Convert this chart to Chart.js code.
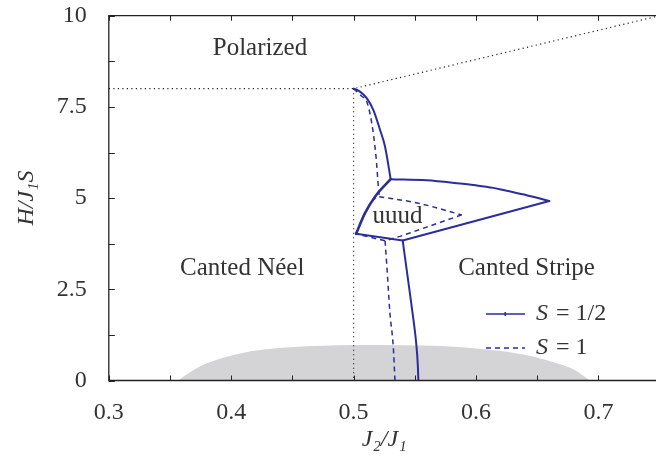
<!DOCTYPE html>
<html><head><meta charset="utf-8">
<script src="https://cdn.jsdelivr.net/npm/chart.js@4.4.1/dist/chart.umd.min.js"></script>
<style>html,body{margin:0;padding:0;overflow:hidden;background:#fff}</style>
</head><body>
<canvas id="c" width="660" height="463"></canvas>
<script>
// ---- axis ticks ----
const xTicks = [0.3,0.35,0.4,0.45,0.5,0.55,0.6,0.65,0.7,0.75];
const xLabelTicks = ['0.3','0.4','0.5','0.6','0.7'];
const yTicks = [0,1.25,2.5,3.75,5,6.25,7.5,8.75,10];
const yLabelTicks = ['0','2.5','5','7.5','10'];

// ---- S = 1/2 (solid) ----
const s12UpperX = [0.5,0.5052,0.5107,0.5161,0.5216,0.5257,0.5303];
const s12UpperY = [8.0,7.92,7.74,7.42,6.87,6.41,5.52];
const s12TopX = [0.5303,0.5597,0.587,0.6,0.6141,0.625,0.6414,0.6599];
const s12TopY = [5.52,5.49,5.40,5.35,5.28,5.20,5.08,4.92];
const s12BottomX = [0.6599,0.5401,0.502];
const s12BottomY = [4.92,3.84,4.02];
const s12LeftX = [0.502,0.5093,0.5175,0.5303];
const s12LeftY = [4.02,4.59,5.04,5.52];
const s12LowerX = [0.5401,0.5445,0.5482,0.5512,0.5525,0.5529];
const s12LowerY = [3.84,2.76,1.84,1.0,0.4,0];

// ---- S = 1 (dashed) ----
const s1UpperX = [0.5,0.5066,0.5107,0.5148,0.5183,0.5202,0.521];
const s1UpperY = [8.0,7.79,7.65,7.06,6.14,5.32,5.04];
const s1TopX = [0.521,0.5529,0.5883];
const s1TopY = [5.04,4.86,4.54];
const s1BottomX = [0.5883,0.5379,0.5257,0.502];
const s1BottomY = [4.54,3.95,3.83,4.02];
const s1LeftX = [0.502,0.5095,0.516,0.521];
const s1LeftY = [4.02,4.6,4.95,5.04];
const s1LowerX = [0.5257,0.527,0.5297,0.5324,0.5338];
const s1LowerY = [3.83,3.22,1.84,0.93,0];

// ---- dotted boundaries ----
const polX = [0.3,0.5,0.75];
const polY = [8,8,10];
const vertX = [0.5,0.5];
const vertY = [8,0];

// ---- gray region ----
const grayX = [0.357,0.362,0.37,0.38,0.395,0.407,0.425,0.448,0.475,0.5,0.54,0.571,0.6,0.625,0.65,0.666,0.68,0.693];
const grayY = [0,0.13,0.3,0.47,0.64,0.74,0.84,0.91,0.95,0.97,0.965,0.946,0.88,0.79,0.63,0.47,0.3,0];

// ---- region labels ----
const regionNames = ['Polarized','Canted Néel','Canted Stripe','uuud'];
const regionX = [0.4235,0.409,0.6413,0.5359];
const regionY = [9.1,3.06,3.06,4.51];

const zip = (xs, ys) => xs.map((x,i)=>({x, y: ys[i]}));
const BLUE = '#2b2d9c';
const SERIF = '"Liberation Serif", "DejaVu Serif", serif';
const TXT = '#333';

function curveOpts(mode){ return mode === 'mono' ? {cubicInterpolationMode:'monotone'} : {tension: mode}; }
function solid(xs, ys, mode, w){ return Object.assign({data: zip(xs,ys), borderColor: BLUE, borderWidth: w||2, pointRadius:0, showLine:true, fill:false, order:1, borderJoinStyle:'round', borderCapStyle:'round'}, curveOpts(mode)); }
function dashed(xs, ys, mode){ return Object.assign({data: zip(xs,ys), borderColor: BLUE, borderWidth: 1.5, borderDash:[5,4], pointRadius:0, showLine:true, fill:false, order:2}, curveOpts(mode)); }
function dotted(xs, ys){ return {data: zip(xs,ys), borderColor: '#222', borderWidth: 1.2, borderDash:[1.2,3.3], tension:0, pointRadius:0, showLine:true, fill:false, order:3}; }

const datasets = [
  {data: zip(grayX,grayY), borderWidth:0, borderColor:'rgba(0,0,0,0)', backgroundColor:'#d4d4d6', fill:'origin', cubicInterpolationMode:'monotone', pointRadius:0, showLine:true, order:10},
  dotted(polX, polY), dotted(vertX, vertY),
  dashed(s1UpperX, s1UpperY, 'mono'), dashed(s1TopX, s1TopY, 'mono'), dashed(s1BottomX, s1BottomY, 0), dashed(s1LeftX, s1LeftY, 'mono'), dashed(s1LowerX, s1LowerY, 'mono'),
  solid(s12UpperX, s12UpperY, 'mono'), solid(s12TopX, s12TopY, 'mono'), solid(s12BottomX, s12BottomY, 0), solid(s12LeftX, s12LeftY, 'mono', 2.6), solid(s12LowerX, s12LowerY, 'mono')
];

const framePlugin = {
  id: 'frame',
  afterDatasetsDraw(chart){
    const {ctx, chartArea: a, scales: {x, y}} = chart;
    ctx.save();
    ctx.strokeStyle = '#222'; ctx.lineWidth = 1.3; ctx.setLineDash([]);
    ctx.beginPath();
    ctx.moveTo(a.right+2, a.top); ctx.lineTo(a.left, a.top); ctx.lineTo(a.left, a.bottom); ctx.lineTo(a.right+2, a.bottom);
    ctx.stroke();
    ctx.lineWidth = 1;
    ctx.beginPath();
    xTicks.forEach(v => { const px = Math.round(x.getPixelForValue(v))+0.5;
      ctx.moveTo(px, a.bottom); ctx.lineTo(px, a.bottom-5);
      ctx.moveTo(px, a.top); ctx.lineTo(px, a.top+5); });
    yTicks.forEach(v => { const py = Math.round(y.getPixelForValue(v))+0.5;
      ctx.moveTo(a.left, py); ctx.lineTo(a.left+6, py); });
    ctx.stroke();
    // region labels
    ctx.fillStyle = TXT; ctx.font = '25px ' + SERIF; ctx.textAlign = 'center'; ctx.textBaseline = 'middle';
    regionNames.forEach((t,i)=> ctx.fillText(t, x.getPixelForValue(regionX[i]), y.getPixelForValue(regionY[i])));
    // legend
    const items = [{txt:' = 1/2', dash:[], w:1.5, yy:314}, {txt:' = 1', dash:[5,4], w:1.5, yy:348}];
    items.forEach(it => {
      ctx.strokeStyle = BLUE; ctx.lineWidth = it.w; ctx.setLineDash(it.dash);
      ctx.beginPath(); ctx.moveTo(486, it.yy); ctx.lineTo(525, it.yy); ctx.stroke();
      ctx.setLineDash([]);
      if (!it.dash.length){ ctx.fillStyle = BLUE; ctx.fillRect(504.5, it.yy-2, 1.5, 4); }
      ctx.fillStyle = TXT; ctx.textAlign='left';
      ctx.font = 'italic 24px ' + SERIF; ctx.fillText('S', 536, it.yy);
      const w = ctx.measureText('S').width;
      ctx.font = '24px ' + SERIF; ctx.fillText(it.txt, 536 + w + 2, it.yy);
    });
    ctx.restore();
  }
};

new Chart(document.getElementById('c'), {
  type: 'scatter',
  data: { datasets },
  options: {
    responsive: false, animation: false,
    layout: { padding: { top: 15.7, right: 0.4, bottom: 0, left: 0 } },
    plugins: { legend: {display:false}, tooltip: {enabled:false} },
    scales: {
      x: {
        type: 'linear', min: 0.3, max: 0.75,
        afterBuildTicks(s){ s.ticks = xTicks.map(v=>({value:v})); },
        afterFit(s){ s.height = 82.5; s.paddingLeft = 0; s.paddingRight = 0; },
        grid: { display: false, drawTicks: false },
        border: { display: false },
        ticks: { padding: 18, color: TXT, font: { family: SERIF, size: 24 }, maxRotation: 0, autoSkip: false,
          callback(v){ const s = (Math.round(v*100)/100).toString(); return xLabelTicks.includes(s) ? s : ''; } },
        title: { display: true, text: 'J₂/J₁', color: TXT, font: { family: SERIF, size: 24, style: 'italic' }, padding: { top: 0, bottom: 9 } }
      },
      y: {
        type: 'linear', min: 0, max: 10,
        afterBuildTicks(s){ s.ticks = yTicks.map(v=>({value:v})); },
        afterFit(s){ s.width = 108.8; s.paddingTop = 0; s.paddingBottom = 0; },
        grid: { display: false, drawTicks: false },
        border: { display: false },
        ticks: { padding: 22, color: TXT, font: { family: SERIF, size: 24 }, autoSkip: false,
          callback(v){ const s = (Math.round(v*100)/100).toString(); return yLabelTicks.includes(s) ? s : ''; } },
        title: { display: true, text: 'H/J₁S', color: TXT, font: { family: SERIF, size: 24, style: 'italic' }, padding: { top: 12, bottom: 0 } }
      }
    }
  },
  plugins: [framePlugin]
});
</script>
</body></html>
